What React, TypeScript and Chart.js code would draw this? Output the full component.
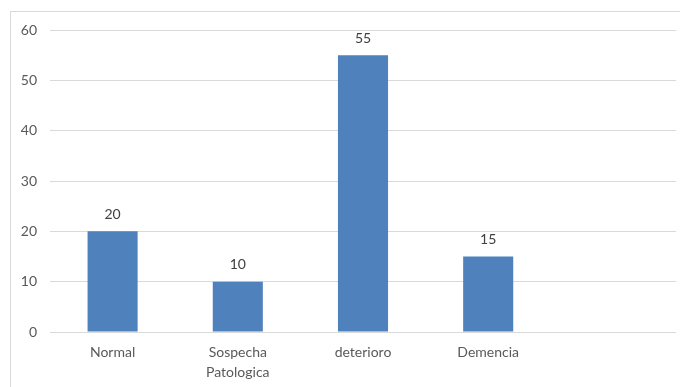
import React, { useEffect, useRef } from "react";
import { Chart, registerables } from "chart.js";

Chart.register(...registerables);

const categories: (string | string[])[] = ["Normal", ["Sospecha", "Patologica"], "deterioro", "Demencia", ""];
const values: (number | null)[] = [20, 10, 55, 15, null];
const yTicks = [0, 10, 20, 30, 40, 50, 60];

const FONT = "Lato, 'Open Sans', sans-serif";

const framePlugin = {
  id: "frame",
  beforeDraw(chart: any) {
    const ctx = chart.ctx;
    ctx.save();
    ctx.strokeStyle = "#d9d9d9";
    ctx.lineWidth = 1;
    ctx.strokeRect(10.5, 11.5, 700, 400);
    ctx.restore();
  },
};

const labelPlugin = {
  id: "barLabels",
  afterDatasetsDraw(chart: any) {
    const ctx = chart.ctx;
    const meta = chart.getDatasetMeta(0);
    ctx.save();
    ctx.fillStyle = "#404040";
    ctx.font = `14px ${FONT}`;
    ctx.textAlign = "center";
    ctx.textBaseline = "middle";
    meta.data.forEach((bar: any, i: number) => {
      const v = values[i];
      if (v === null || v === undefined) return;
      ctx.fillText(String(v), bar.x, bar.y - 17);
    });
    ctx.restore();
  },
};

export default function App() {
  const ref = useRef<HTMLCanvasElement | null>(null);
  useEffect(() => {
    if (!ref.current) return;
    const chart = new Chart(ref.current, {
      type: "bar",
      data: {
        labels: categories,
        datasets: [
          {
            data: values,
            backgroundColor: "#4f81bd",
            borderWidth: 0,
            categoryPercentage: 1,
            barPercentage: 0.4,
          },
        ],
      },
      options: {
        responsive: false,
        animation: false,
        layout: { padding: { top: 30, right: 4, left: 0, bottom: 0 } },
        plugins: { legend: { display: false }, tooltip: { enabled: false } },
        scales: {
          x: {
            grid: { display: false, drawTicks: false },
            border: { display: false },
            ticks: {
              color: "#595959",
              font: { family: FONT, size: 14, lineHeight: 1.43 },
              padding: 10,
              maxRotation: 0,
              autoSkip: false,
            },
            afterFit: (s: any) => {
              s.height = 387 - 332;
            },
          },
          y: {
            min: 0,
            max: 60,
            afterBuildTicks: (s: any) => {
              s.ticks = yTicks.map((v) => ({ value: v }));
            },
            grid: { color: "#d9d9d9", drawTicks: false },
            border: { display: false },
            ticks: {
              color: "#595959",
              font: { family: FONT, size: 14 },
              padding: 13,
            },
            afterFit: (s: any) => {
              s.width = 50;
            },
          },
        },
      },
      plugins: [framePlugin, labelPlugin],
    });
    return () => chart.destroy();
  }, []);
  return (
    <div style={{ position: "fixed", left: 0, top: 0, width: 680, height: 387, background: "#fff" }}>
      <canvas ref={ref} width={680} height={387} style={{ display: "block" }} />
    </div>
  );
}
